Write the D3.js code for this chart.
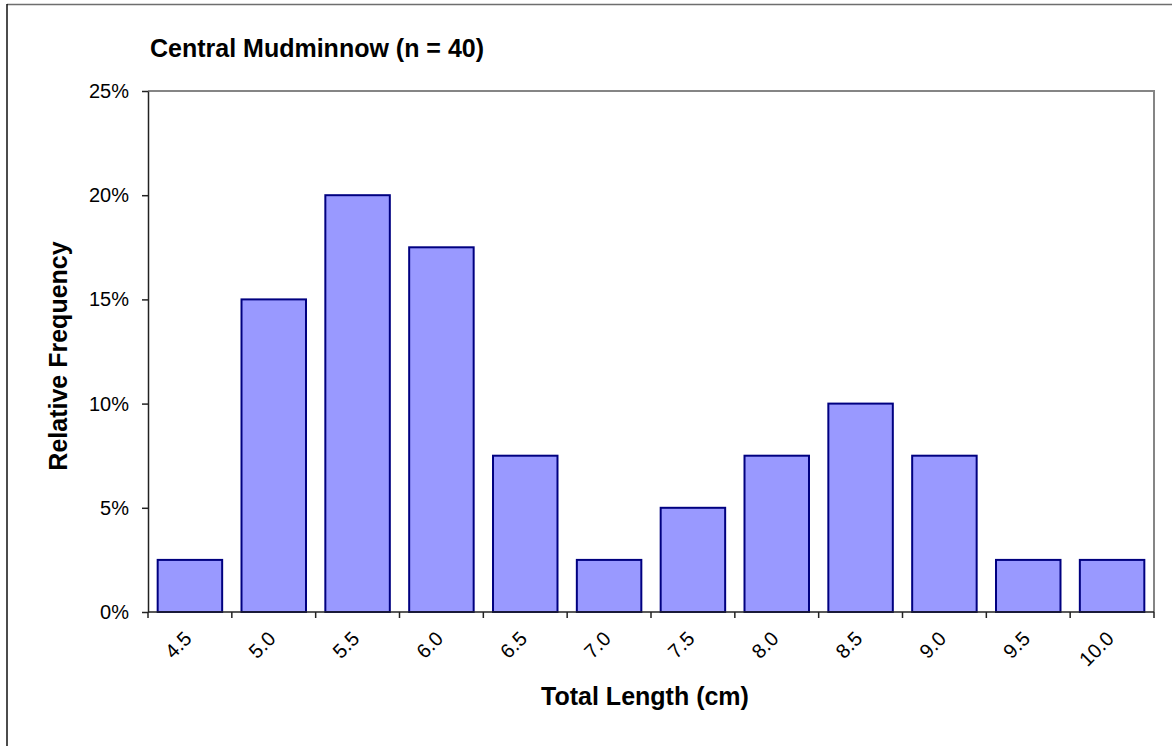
<!DOCTYPE html>
<html>
<head>
<meta charset="utf-8">
<script src="https://cdn.jsdelivr.net/npm/d3@7"></script>
<style>
  body { margin: 0; background: #fff; }
  svg { font-family: Arial, "Liberation Sans", sans-serif; }
</style>
</head>
<body>
<div id="chart"></div>
<script>
const lengths = ["4.5", "5.0", "5.5", "6.0", "6.5", "7.0", "7.5", "8.0", "8.5", "9.0", "9.5", "10.0"];
const relFreq = [2.5, 15, 20, 17.5, 7.5, 2.5, 5, 7.5, 10, 7.5, 2.5, 2.5];
const yTicks = [0, 5, 10, 15, 20, 25];

const W = 1172, H = 746;
const plot = {left: 148, right: 1154, top: 91, bottom: 612};

const svg = d3.select('#chart').append('svg')
    .attr('width', W)
    .attr('height', H);

// outer chart frame (only top and left edges show)
svg.append('line').attr('x1', 7).attr('x2', W).attr('y1', 4.5).attr('y2', 4.5)
    .attr('stroke', '#6e6e6e').attr('stroke-width', 1.5);
svg.append('line').attr('x1', 7).attr('x2', 7).attr('y1', 4).attr('y2', H)
    .attr('stroke', '#111').attr('stroke-width', 1.5);

const x = d3.scaleBand()
    .domain(lengths)
    .range([plot.left, plot.right])
    .paddingInner(0.3 / 1.3)
    .paddingOuter(0.15 / 1.3);

const xOuter = d3.scaleBand()
    .domain(lengths)
    .range([plot.left, plot.right]);

const y = d3.scaleLinear()
    .domain([0, 25])
    .range([plot.bottom, plot.top]);

// plot area border (top / right)
svg.append('path')
    .attr('d', `M${plot.left},${plot.top}H${plot.right}V${plot.bottom}`)
    .attr('fill', 'none')
    .attr('stroke', '#858585')
    .attr('stroke-width', 2);

// bars
svg.selectAll('.bar')
    .data(relFreq)
    .enter().append('rect')
    .attr('class', 'bar')
    .attr('x', (d, i) => x(lengths[i]))
    .attr('width', x.bandwidth())
    .attr('y', d => y(d))
    .attr('height', d => y(0) - y(d))
    .attr('fill', '#9999ff')
    .attr('stroke', '#000080')
    .attr('stroke-width', 2);

// y axis
const yAxis = svg.append('g')
    .attr('transform', `translate(${plot.left},0)`)
    .call(d3.axisLeft(y).tickValues(yTicks).tickSize(6).tickSizeOuter(0).tickFormat(d => d + '%'));
yAxis.select('.domain').attr('stroke', '#222').attr('stroke-width', 1.5);
yAxis.selectAll('.tick line').attr('stroke', '#222').attr('stroke-width', 1.5);
yAxis.selectAll('.tick text')
    .attr('x', -19)
    .attr('fill', '#000')
    .style('font-size', '20px');

// x axis: ticks on category boundaries
const xAxis = svg.append('g')
    .attr('transform', `translate(0,${plot.bottom})`);
xAxis.append('line')
    .attr('x1', plot.left).attr('x2', plot.right)
    .attr('stroke', '#222').attr('stroke-width', 1.5);
const bounds = lengths.map(d => xOuter(d)).concat([plot.right]);
xAxis.selectAll('.xt')
    .data(bounds)
    .enter().append('line')
    .attr('class', 'xt')
    .attr('x1', d => d).attr('x2', d => d)
    .attr('y1', 0).attr('y2', 6)
    .attr('stroke', '#222').attr('stroke-width', 1.5);
xAxis.selectAll('.xl')
    .data(lengths)
    .enter().append('text')
    .attr('class', 'xl')
    .attr('text-anchor', 'end')
    .attr('transform', d => `translate(${xOuter(d) + xOuter.bandwidth() / 2 + 3},${28}) rotate(-45)`)
    .style('font-size', '20px')
    .text(d => d);

// titles
svg.append('text')
    .attr('x', 150).attr('y', 57)
    .style('font-size', '25px').style('font-weight', 'bold')
    .text('Central Mudminnow (n = 40)');

svg.append('text')
    .attr('x', 645).attr('y', 705)
    .attr('text-anchor', 'middle')
    .style('font-size', '25px').style('font-weight', 'bold')
    .text('Total Length (cm)');

svg.append('text')
    .attr('transform', `translate(67,${356}) rotate(-90)`)
    .attr('text-anchor', 'middle')
    .style('font-size', '25px').style('font-weight', 'bold')
    .text('Relative Frequency');
</script>
</body>
</html>
